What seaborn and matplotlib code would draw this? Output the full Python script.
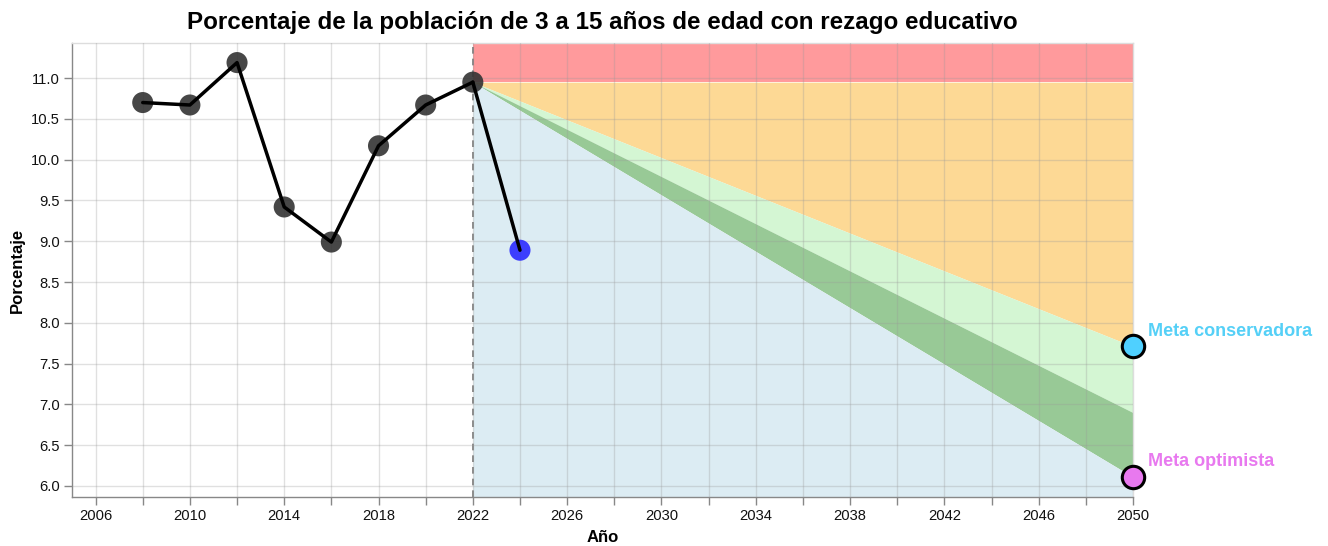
import matplotlib
matplotlib.use("Agg")
import matplotlib.pyplot as plt
import matplotlib.ticker as mticker
import seaborn as sns
import pandas as pd
import numpy as np

# Observed series
years = [2008, 2010, 2012, 2014, 2016, 2018, 2020, 2022]
values = [10.70, 10.67, 11.19, 9.42, 8.99, 10.17, 10.67, 10.95]

# Latest estimate
latest_year = 2024
latest_value = 8.89

# Targets for 2050
base_year = 2022
base_value = 10.95
target_year = 2050
meta_conservadora = 7.71
meta_intermedia = 6.90
meta_optimista = 6.11

y_min, y_max = 5.865, 11.43
x_min, x_max = 2005, 2050

sns.set_theme(style="white")
plt.rcParams['font.family'] = ['Liberation Sans', 'DejaVu Sans']

fig = plt.figure(figsize=(13.28, 5.46), dpi=100)
ax = fig.add_axes([72/1328, 1-497/546, (1133-72)/1328, (497-43)/546])

# Projection bands
bx = np.array([base_year, target_year])
top = np.array([y_max, y_max])
cons = np.array([base_value, meta_conservadora])
mid = np.array([base_value, meta_intermedia])
opt = np.array([base_value, meta_optimista])
bottom = np.array([y_min, y_min])
ax.fill_between(bx, [base_value, base_value], top, color="#ff9a9c", lw=0, zorder=0)
ax.fill_between(bx, cons, [base_value, base_value], color="#fdd995", lw=0, zorder=0)
ax.fill_between(bx, mid, cons, color="#d4f6d3", lw=0, zorder=0)
ax.fill_between(bx, opt, mid, color="#98c996", lw=0, zorder=0)
ax.fill_between(bx, bottom, opt, color="#dcecf3", lw=0, zorder=0)

# Grid drawn over the bands
ax.set_axisbelow(False)
ax.grid(True, color="#999999", alpha=0.3, lw=1, zorder=1)

ax.axvline(base_year, color="#777777", lw=1.2, ls=(0, (4, 3)), zorder=2)

df = pd.DataFrame({"Año": years, "Porcentaje": values})
ext = pd.DataFrame({"Año": [base_year, latest_year], "Porcentaje": [base_value, latest_value]})
sns.lineplot(data=df, x="Año", y="Porcentaje", color="black", lw=2.5, ax=ax, zorder=4)
sns.lineplot(data=ext, x="Año", y="Porcentaje", color="black", lw=2.5, ax=ax, zorder=4)
sns.scatterplot(data=df, x="Año", y="Porcentaje", color="#333333", alpha=0.9, s=230,
                edgecolor="none", ax=ax, zorder=3)
sns.scatterplot(x=[latest_year], y=[latest_value], color="#2b2bff", alpha=0.9, s=230,
                edgecolor="none", ax=ax, zorder=3)

# Target markers
ax.scatter([target_year], [meta_conservadora], s=260, color="#4fd0ff", edgecolor="black",
           linewidth=2.2, zorder=6, clip_on=False)
ax.scatter([target_year], [meta_optimista], s=260, color="#e879ef", edgecolor="black",
           linewidth=2.2, zorder=6, clip_on=False)
ax.annotate("Meta conservadora", (target_year, meta_conservadora), xytext=(11, 11),
            textcoords="offset points", fontsize=13, fontweight="bold", color="#55d0f7",
            va="center", ha="left", annotation_clip=False)
ax.annotate("Meta optimista", (target_year, meta_optimista), xytext=(11, 11),
            textcoords="offset points", fontsize=13, fontweight="bold", color="#e879ef",
            va="center", ha="left", annotation_clip=False)

ax.set_xlim(x_min, x_max)
ax.set_ylim(y_min, y_max)
ax.xaxis.set_major_locator(mticker.MultipleLocator(2))
ax.xaxis.set_major_formatter(mticker.FuncFormatter(lambda v, p: f"{int(round(v))}" if int(round(v)) % 4 == 2 else ""))
ax.yaxis.set_major_locator(mticker.MultipleLocator(0.5))
ax.yaxis.set_major_formatter(mticker.FormatStrFormatter("%.1f"))
ax.tick_params(axis="both", which="major", length=6, width=1, color="#888888",
               labelsize=10.6, labelcolor="#111111", direction="out", bottom=True, left=True, pad=3)

for side in ["top", "right"]:
    ax.spines[side].set_color("#dddddd")
    ax.spines[side].set_linewidth(1)
for side in ["left", "bottom"]:
    ax.spines[side].set_color("#888888")
    ax.spines[side].set_linewidth(1)

ax.set_xlabel("Año", fontsize=12, fontweight="bold", labelpad=5, color="black")
ax.set_ylabel("Porcentaje", fontsize=12, fontweight="bold", labelpad=4, color="black")
ax.set_title("Porcentaje de la población de 3 a 15 años de edad con rezago educativo",
             fontsize=17.4, fontweight="bold", pad=10, color="black")

fig.savefig("out.png", dpi=100)
